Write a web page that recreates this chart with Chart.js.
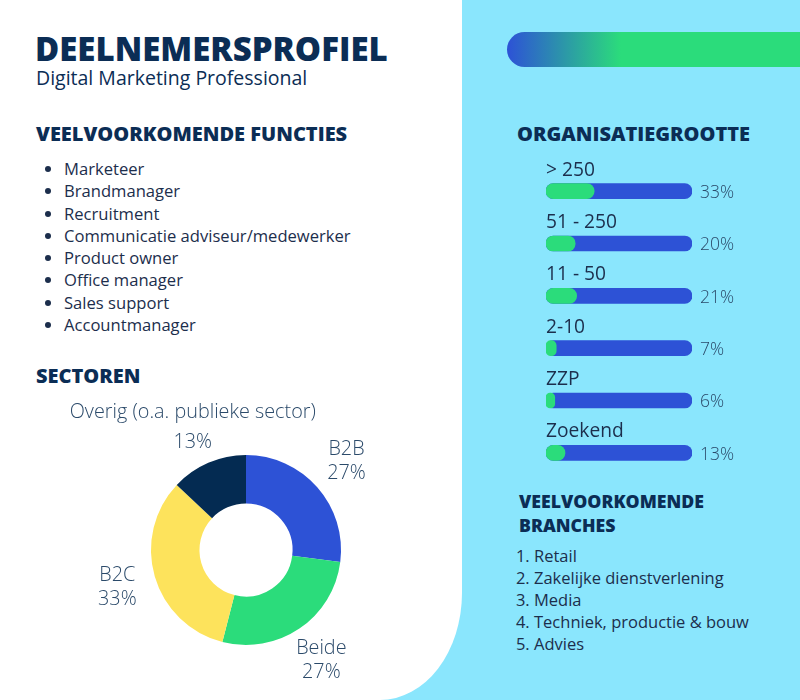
<!DOCTYPE html>
<html lang="nl">

<head>
    <meta charset="UTF-8">
    <meta name="viewport" content="width=device-width, initial-scale=1.0">
    <title>Deelnemersprofiel</title>
    <script src="https://cdn.jsdelivr.net/npm/chart.js"></script>
</head>

<style>
    body {
        margin: 0;
        font-family: 'Open Sans', sans-serif;
        color: #1c2e4c;
    }
    #page {
        position: relative;
        width: 800px;
        height: 700px;
        background: #8ae6fd;
        overflow: hidden;
    }
    #left {
        position: absolute;
        left: 0; top: 0;
        width: 462px; height: 700px;
        background: #fff;
        border-bottom-right-radius: 82px 107px;
    }
    .abs { position: absolute; margin: 0; }
    h1 {
        font-size: 33px; font-weight: 800; color: #0b2d55;
        line-height: 40px;
    }
    h2 {
        font-size: 20px; font-weight: 800; color: #0b2d55;
        line-height: 24px;
    }
    .sub { font-size: 19.5px; color: #0b2d55; }
    ul.bullets {
        padding-left: 28px; font-size: 16.6px; line-height: 22.3px;
    }
    ol.branches {
        padding-left: 16px; font-size: 16.5px; line-height: 22px;
    }
    #gradbar {
        position: absolute;
        left: 507px; top: 32px; width: 300px; height: 35px;
        border-radius: 17.5px 0 0 17.5px;
        background: linear-gradient(to right, #2d52d6 0%, #2bdc7b 38%, #2bdc7b 100%);
    }
</style>

<body>
    <div id="page">
        <div id="left"></div>
        <h1 class="abs" style="left:35px; top:29px;">DEELNEMERSPROFIEL</h1>
        <div class="abs sub" style="left:36px; top:64px;">Digital Marketing Professional</div>

        <h2 class="abs" style="left:36px; top:122px;">VEELVOORKOMENDE FUNCTIES</h2>
        <ul id="functies" class="abs bullets" style="left:36px; top:158px;"></ul>

        <h2 class="abs" style="left:36px; top:364px;">SECTOREN</h2>
        <canvas id="donut" class="abs" style="left:36px; top:395px;" width="420" height="305"></canvas>

        <div id="gradbar"></div>
        <h2 class="abs" style="left:517px; top:122px;">ORGANISATIEGROOTTE</h2>
        <canvas id="bars" class="abs" style="left:540px; top:140px;" width="220" height="340"></canvas>

        <h2 class="abs" style="left:519px; top:489px; font-size:17.7px;">VEELVOORKOMENDE<br>BRANCHES</h2>
        <ol id="branches" class="abs branches" style="left:518px; top:545px;"></ol>
    </div>

    <script>
        const functies = ['Marketeer', 'Brandmanager', 'Recruitment', 'Communicatie adviseur/medewerker',
            'Product owner', 'Office manager', 'Sales support', 'Accountmanager'];
        const branches = ['Retail', 'Zakelijke dienstverlening', 'Media', 'Techniek, productie & bouw', 'Advies'];

        const sectorLabels = ['B2B', 'Beide', 'B2C', 'Overig (o.a. publieke sector)'];
        const sectorValues = [27, 27, 33, 13];
        const sectorColors = ['#2d52d6', '#2bdc7b', '#fde35c', '#042b52'];

        const sizeLabels = ['> 250', '51 - 250', '11 - 50', '2-10', 'ZZP', 'Zoekend'];
        const sizeValues = [33, 20, 21, 7, 6, 13];
        const sizeTrack = sizeValues.map(() => 100);

        const labelColor = '#2b4a6a';

        functies.forEach(f => {
            const li = document.createElement('li');
            li.textContent = f;
            document.getElementById('functies').appendChild(li);
        });
        branches.forEach(b => {
            const li = document.createElement('li');
            li.textContent = b;
            document.getElementById('branches').appendChild(li);
        });

        // labels outside the donut, along the middle of each slice
        const donutLabels = {
            id: 'donutLabels',
            afterDraw(chart) {
                const ctx = chart.ctx;
                const meta = chart.getDatasetMeta(0);
                ctx.save();
                ctx.font = '300 19.8px "Open Sans"';
                ctx.fillStyle = labelColor;
                ctx.textAlign = 'center';
                ctx.textBaseline = 'middle';
                meta.data.forEach((arc, i) => {
                    const a = (arc.startAngle + arc.endAngle) / 2;
                    const r = arc.outerRadius + 39;
                    const x = arc.x + Math.cos(a) * r;
                    const y = arc.y + Math.sin(a) * r;
                    const gap = i === 3 ? 15 : 12;
                    ctx.fillText(sectorLabels[i], x, y - gap);
                    ctx.fillText(sectorValues[i] + '%', x, y + gap);
                });
                ctx.restore();
            }
        };

        // category label above each bar, percentage to the right
        const barLabels = {
            id: 'barLabels',
            afterDraw(chart) {
                const ctx = chart.ctx;
                const meta = chart.getDatasetMeta(0);
                const area = chart.chartArea;
                ctx.save();
                ctx.textBaseline = 'middle';
                meta.data.forEach((bar, i) => {
                    ctx.font = '400 19.2px "Open Sans"';
                    ctx.fillStyle = '#1c2e4c';
                    ctx.textAlign = 'left';
                    ctx.fillText(sizeLabels[i], area.left, bar.y - 21);
                    ctx.font = '300 17.5px "Open Sans"';
                    ctx.fillStyle = labelColor;
                    ctx.fillText(sizeValues[i] + '%', area.right + 8, bar.y + 2);
                });
                ctx.restore();
            }
        };

        window.onload = function () {
            new Chart(document.getElementById('donut'), {
                type: 'doughnut',
                data: {
                    labels: sectorLabels,
                    datasets: [{
                        data: sectorValues,
                        backgroundColor: sectorColors,
                        borderWidth: 0,
                    }]
                },
                options: {
                    responsive: false,
                    animation: false,
                    cutout: '49%',
                    layout: { padding: { left: 115, right: 115, top: 60, bottom: 55 } },
                    plugins: { legend: { display: false }, tooltip: { enabled: false } }
                },
                plugins: [donutLabels]
            });

            new Chart(document.getElementById('bars'), {
                type: 'bar',
                data: {
                    labels: sizeLabels,
                    datasets: [{
                        data: sizeValues,
                        backgroundColor: '#2bdc7b',
                        order: 1,
                    }, {
                        data: sizeTrack,
                        backgroundColor: '#2d52d6',
                        order: 2,
                    }]
                },
                options: {
                    indexAxis: 'y',
                    responsive: false,
                    animation: false,
                    datasets: {
                        bar: {
                            grouped: false,
                            barThickness: 15,
                            borderRadius: 8,
                            borderSkipped: false,
                        }
                    },
                    layout: { padding: { left: 6, right: 68, top: 25, bottom: 1 } },
                    scales: {
                        x: { display: false, min: 0, max: 100 },
                        y: { display: false }
                    },
                    plugins: { legend: { display: false }, tooltip: { enabled: false } }
                },
                plugins: [barLabels]
            });
        }
    </script>
</body>

</html>
